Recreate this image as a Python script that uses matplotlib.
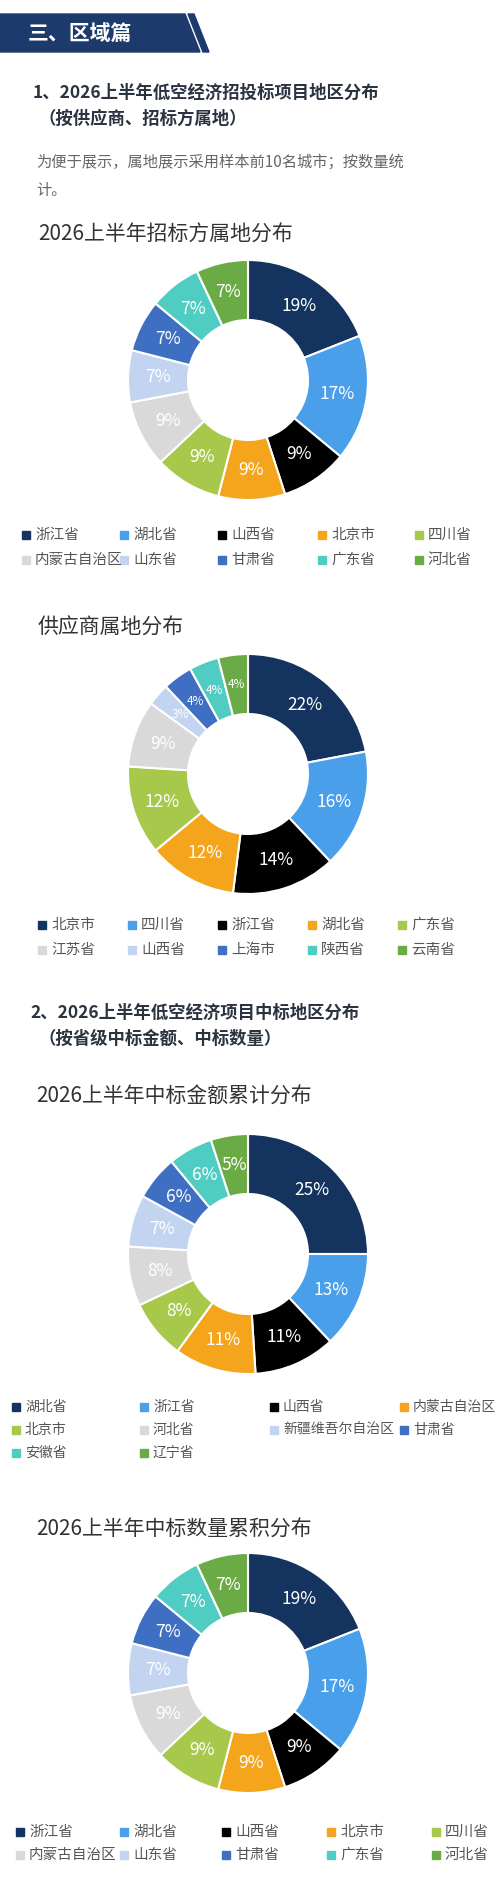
import matplotlib
matplotlib.use("Agg")
import matplotlib.pyplot as plt
from matplotlib.patches import Polygon, Rectangle

plt.rcParams['font.family'] = ['Noto Sans CJK SC', 'DejaVu Sans']

W, H = 500, 1880
colors = ['#15335f', '#4a9fea', '#000000', '#f4a51c', '#a8c84c',
          '#d9d9d9', '#c3d4f0', '#3f6fc2', '#4fcdc2', '#6aab45']

cat1 = ['浙江省', '湖北省', '山西省', '北京市', '四川省', '内蒙古自治区', '山东省', '甘肃省', '广东省', '河北省']
val1 = [19, 17, 9, 9, 9, 9, 7, 7, 7, 7]
cat2 = ['北京市', '四川省', '浙江省', '湖北省', '广东省', '江苏省', '山西省', '上海市', '陕西省', '云南省']
val2 = [22, 16, 14, 12, 12, 9, 3, 4, 4, 4]
cat3 = ['湖北省', '浙江省', '山西省', '内蒙古自治区', '北京市', '河北省', '新疆维吾尔自治区', '甘肃省', '安徽省', '辽宁省']
val3 = [25, 13, 11, 11, 8, 8, 7, 6, 6, 5]
cat4 = ['浙江省', '湖北省', '山西省', '北京市', '四川省', '内蒙古自治区', '山东省', '甘肃省', '广东省', '河北省']
val4 = [19, 17, 9, 9, 9, 9, 7, 7, 7, 7]

fig = plt.figure(figsize=(W / 100, H / 100), dpi=100)
bg = fig.add_axes([0, 0, 1, 1])
bg.set_xlim(0, W)
bg.set_ylim(H, 0)
bg.axis('off')

# header banner
bg.add_patch(Polygon([[0, 14], [185, 14], [200, 52], [0, 52]], color='#1c3a6b'))
bg.add_patch(Polygon([[188, 14], [194, 14], [209, 52], [203, 52]], color='#1c3a6b'))
bg.text(28, 34, '三、区域篇', color='white', fontsize=15, fontweight='bold', va='center')

dark = '#2a3340'
bg.text(33, 93, '1、2026上半年低空经济招投标项目地区分布', fontsize=12.5, fontweight='bold', color=dark, va='center')
bg.text(38, 119, '（按供应商、招标方属地）', fontsize=12.5, fontweight='bold', color=dark, va='center')
bg.text(36, 162, '为便于展示，属地展示采用样本前10名城市；按数量统', fontsize=11, color='#666666', va='center')
bg.text(36, 190, '计。', fontsize=11, color='#666666', va='center')
bg.text(38, 235, '2026上半年招标方属地分布', fontsize=15, color='#333333', va='center')
bg.text(38, 628, '供应商属地分布', fontsize=15, color='#333333', va='center')
bg.text(30, 1013, '2、2026上半年低空经济项目中标地区分布', fontsize=12.5, fontweight='bold', color=dark, va='center')
bg.text(38, 1039, '（按省级中标金额、中标数量）', fontsize=12.5, fontweight='bold', color=dark, va='center')
bg.text(36, 1097, '2026上半年中标金额累计分布', fontsize=15, color='#333333', va='center')
bg.text(36, 1530, '2026上半年中标数量累积分布', fontsize=15, color='#333333', va='center')


def donut(vals, cy, cx=248, R=120):
    ax = fig.add_axes([(cx - R) / W, 1 - (cy + R) / H, 2 * R / W, 2 * R / H])
    wedges, texts = ax.pie(vals, colors=colors, startangle=90, counterclock=False, radius=1,
                           wedgeprops=dict(width=0.5, edgecolor='white', linewidth=1.5),
                           labels=[f'{v}%' for v in vals], labeldistance=0.75,
                           textprops=dict(color='white', fontsize=12.5, ha='center', va='center'))
    for t, v in zip(texts, vals):
        if v < 5:
            t.set_fontsize(8.5)
    ax.set_xlim(-1, 1)
    ax.set_ylim(-1, 1)
    ax.set_aspect('equal')


def legend(cats, xs, ys, ncol, fs=10.5):
    for i, c in enumerate(cats):
        x = xs[i % ncol]
        y = ys[i // ncol]
        bg.add_patch(Rectangle((x, y - 4), 8, 8, color=colors[i]))
        bg.text(x + 13, y, c, fontsize=fs, color='#555555', va='center')


donut(val1, 380)
legend(cat1, [22, 120, 218, 318, 415], [535, 560], 5)
donut(val2, 774)
legend(cat2, [38, 128, 218, 308, 398], [925, 950], 5)
donut(val3, 1254)
legend(cat3, [12, 140, 270, 400], [1407, 1430, 1453], 4, fs=10)
donut(val4, 1673)
legend(cat4, [16, 120, 222, 327, 432], [1832, 1855], 5)

fig.savefig('out.png', dpi=100, facecolor='white')
